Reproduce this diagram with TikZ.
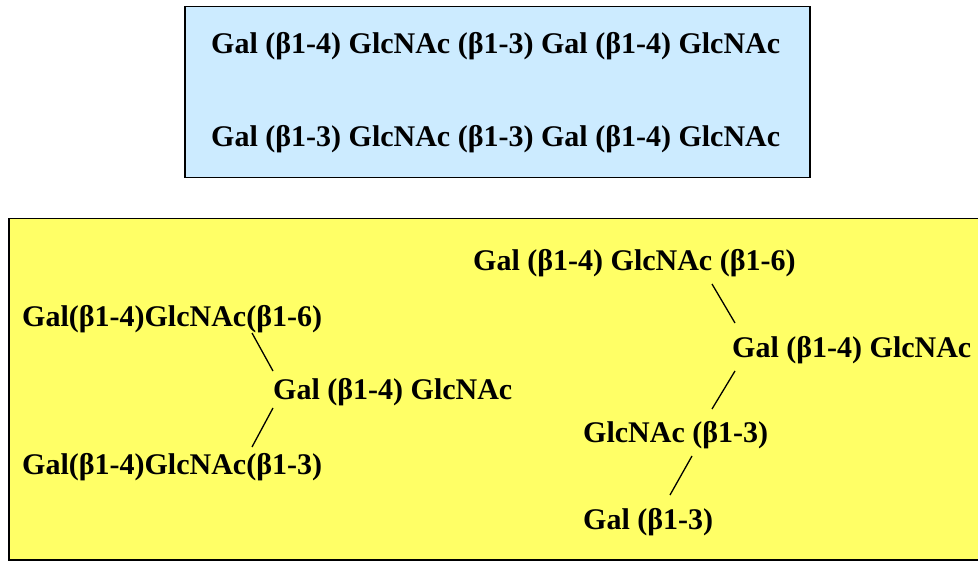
\documentclass[tikz,border=0pt]{standalone}
\usepackage{fontspec}
\setmainfont{Liberation Serif}
\definecolor{boxblue}{RGB}{204,235,255}
\definecolor{boxyellow}{RGB}{255,255,102}
\begin{document}
\begin{tikzpicture}[x=1pt,y=-1pt,
  lbl/.style={anchor=west,inner sep=0pt,font=\fontsize{30}{33}\selectfont\bfseries},
  link/.style={line width=1.3pt},
  panel/.style={draw=black,line width=1.5pt}]
\useasboundingbox (0,0) rectangle (978,561);
\node[panel,fill=boxblue,minimum width=625pt,minimum height=171pt,anchor=north west,inner sep=0pt] (top) at (184,6) {};
\node[panel,fill=boxyellow,minimum width=980pt,minimum height=341pt,anchor=north west,inner sep=0pt] (bottom) at (8,218) {};
\node[lbl] (t1) at (211,46) {Gal (β1-4) GlcNAc (β1-3) Gal (β1-4) GlcNAc};
\node[lbl] (t2) at (211,139) {Gal (β1-3) GlcNAc (β1-3) Gal (β1-4) GlcNAc};
% left branch
\node[lbl] (a1) at (22,319) {Gal(β1-4)GlcNAc(β1-6)};
\node[lbl] (a2) at (273,392) {Gal (β1-4) GlcNAc};
\node[lbl] (a3) at (22,467) {Gal(β1-4)GlcNAc(β1-3)};
\coordinate (a1e) at (252,333);
\coordinate (a2n) at (273,371);
\coordinate (a2s) at (273,408);
\coordinate (a3e) at (252,447);
\draw[link] (a1e) -- (a2n);
\draw[link] (a2s) -- (a3e);
% right branch
\node[lbl] (b1) at (473,263) {Gal (β1-4) GlcNAc (β1-6)};
\node[lbl] (b2) at (732,350) {Gal (β1-4) GlcNAc};
\node[lbl] (b3) at (583,435) {GlcNAc (β1-3)};
\node[lbl] (b4) at (583,522) {Gal (β1-3)};
\coordinate (b1e) at (712,284);
\coordinate (b2n) at (735,323);
\coordinate (b2s) at (735,371);
\coordinate (b3n) at (712,409);
\coordinate (b3s) at (692,456);
\coordinate (b4n) at (670,495);
\draw[link] (b1e) -- (b2n);
\draw[link] (b2s) -- (b3n);
\draw[link] (b3s) -- (b4n);
\end{tikzpicture}
\end{document}
